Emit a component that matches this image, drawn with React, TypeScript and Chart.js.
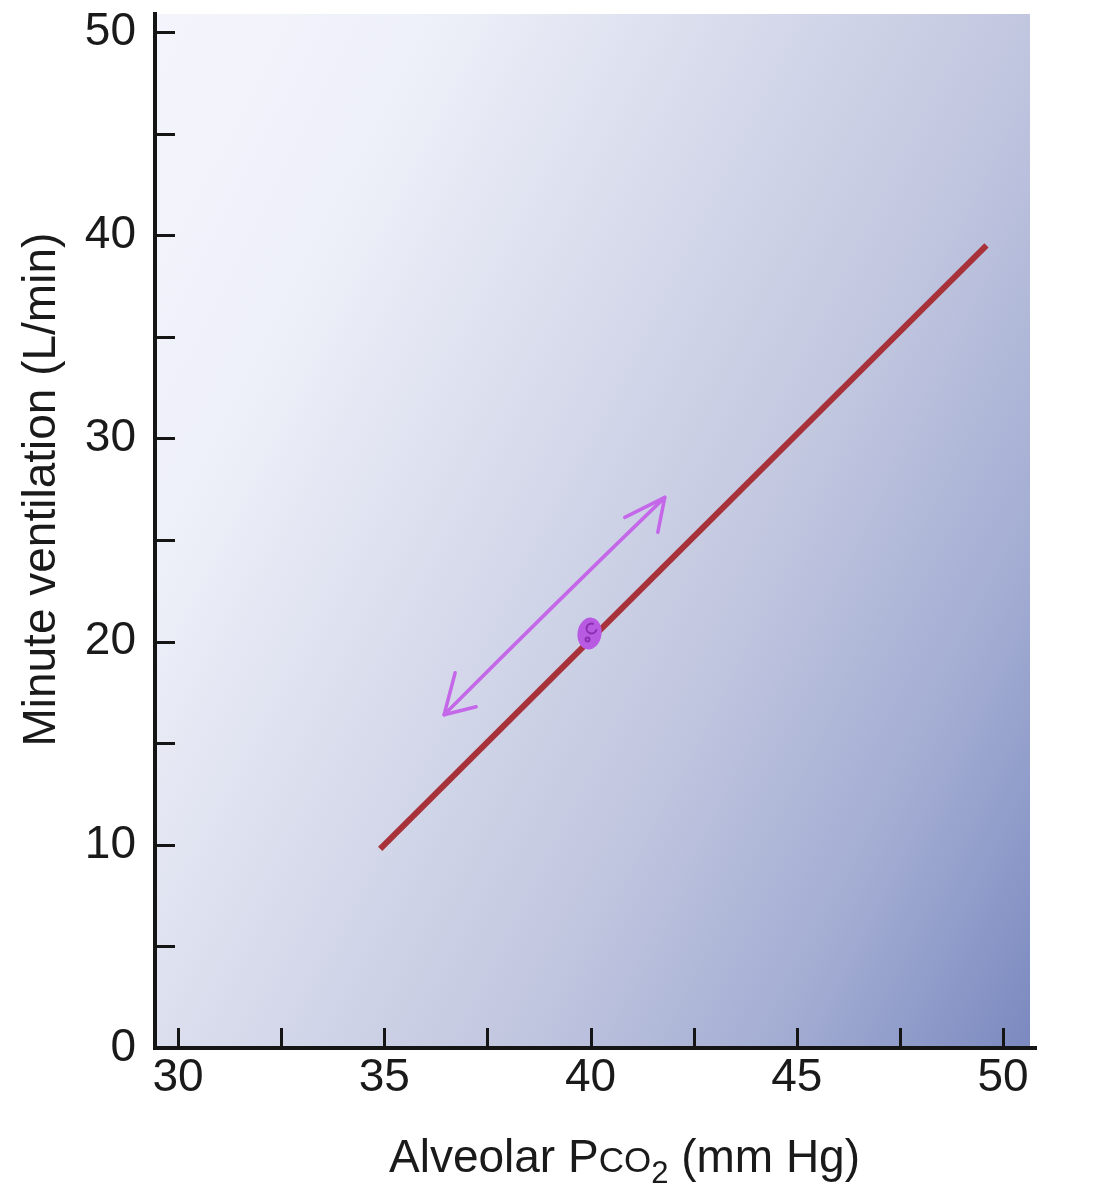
import React, { useEffect, useRef } from "react";
import { Chart, registerables } from "chart.js";

Chart.register(...registerables);

// ---- data ----
const lineX = [34.9, 49.6];
const lineY = [9.8, 39.5];
const xTickValues = [30, 32.5, 35, 37.5, 40, 42.5, 45, 47.5, 50];
const xLabelValues = [30, 35, 40, 45, 50];
const yTickValues = [0, 5, 10, 15, 20, 25, 30, 35, 40, 45, 50];
const yLabelValues = [0, 10, 20, 30, 40, 50];
const arrowFrom = [36.45, 16.4];
const arrowTo = [41.8, 27.1];
const markerPoint = [40, 20.4];
const yTitle = "Minute ventilation (L/min)";
const xTitleParts = ["Alveolar P", "CO", "2", " (mm Hg)"];

const FONT = "'Liberation Sans', Arial, Helvetica, sans-serif";
const TEXT = "#1a1a1a";
const AXIS = "#151515";
const LINE_RED = "#a8323a";
const PURPLE = "#c467e8";
const FS = 46;

const decorPlugin = {
  id: "decor",
  beforeDraw(chart: any) {
    const { ctx, chartArea: a } = chart;
    const w = a.right - a.left - 6;
    const h = a.bottom - a.top;
    const gx = 0.625 / w;
    const gy = 0.375 / h;
    const gg = gx * gx + gy * gy;
    const dx = gx / gg;
    const dy = gy / gg;
    const g = ctx.createLinearGradient(a.left, a.top, a.left + dx, a.top + dy);
    g.addColorStop(0, "#f4f5fc");
    g.addColorStop(0.2, "#eef0f9");
    g.addColorStop(0.375, "#dcdfee");
    g.addColorStop(0.625, "#c2c7e0");
    g.addColorStop(0.82, "#a3add3");
    g.addColorStop(1, "#7b89bf");
    ctx.save();
    ctx.fillStyle = g;
    ctx.fillRect(a.left, a.top, w, h);
    ctx.restore();
  },
  afterDatasetsDraw(chart: any) {
    const { ctx, chartArea: a, scales } = chart;
    const xs = scales.x;
    const ys = scales.y;
    ctx.save();
    ctx.strokeStyle = AXIS;
    ctx.lineWidth = 3;
    ctx.lineCap = "butt";
    for (const v of yTickValues) {
      if (v === 0) continue;
      const py = Math.round(ys.getPixelForValue(v)) + 0.5;
      ctx.beginPath();
      ctx.moveTo(a.left, py);
      ctx.lineTo(a.left + 20, py);
      ctx.stroke();
    }
    for (const v of xTickValues) {
      const px = Math.round(xs.getPixelForValue(v)) + 0.5;
      ctx.beginPath();
      ctx.moveTo(px, a.bottom);
      ctx.lineTo(px, a.bottom - 20);
      ctx.stroke();
    }

    // purple double arrow
    const x0 = xs.getPixelForValue(arrowFrom[0]);
    const y0 = ys.getPixelForValue(arrowFrom[1]);
    const x1 = xs.getPixelForValue(arrowTo[0]);
    const y1 = ys.getPixelForValue(arrowTo[1]);
    ctx.strokeStyle = PURPLE;
    ctx.lineWidth = 3.5;
    ctx.lineCap = "round";
    ctx.lineJoin = "round";
    ctx.beginPath();
    ctx.moveTo(x0, y0);
    ctx.quadraticCurveTo((x0 + x1) / 2 + 3, (y0 + y1) / 2 - 5, x1, y1);
    ctx.stroke();
    ctx.beginPath();
    ctx.moveTo(x1 - 40, y1 + 20);
    ctx.lineTo(x1, y1);
    ctx.lineTo(x1 - 7, y1 + 35);
    ctx.stroke();
    ctx.beginPath();
    ctx.moveTo(x0 + 11, y0 - 42);
    ctx.lineTo(x0, y0);
    ctx.lineTo(x0 + 32, y0 - 8);
    ctx.stroke();

    // marker blob
    const mx = xs.getPixelForValue(markerPoint[0]);
    const my = ys.getPixelForValue(markerPoint[1]);
    ctx.fillStyle = "#b95be2";
    ctx.beginPath();
    ctx.ellipse(mx - 1, my, 12, 16, 0.15, 0, Math.PI * 2);
    ctx.fill();
    ctx.strokeStyle = "#8a2fb0";
    ctx.lineWidth = 2;
    ctx.beginPath();
    ctx.arc(mx + 1, my - 5, 5, 0.3, Math.PI * 1.6);
    ctx.stroke();
    ctx.beginPath();
    ctx.arc(mx - 3, my + 6, 2, 0, Math.PI * 2);
    ctx.stroke();
    ctx.restore();
  },
  afterDraw(chart: any) {
    const { ctx, chartArea: a } = chart;
    ctx.save();
    ctx.fillStyle = TEXT;
    ctx.save();
    ctx.translate(a.left - 113, a.top + 0.46 * (a.bottom - a.top));
    ctx.rotate(-Math.PI / 2);
    ctx.font = `${FS}px ${FONT}`;
    ctx.textAlign = "center";
    ctx.textBaseline = "middle";
    ctx.fillText(yTitle, 0, 0);
    ctx.restore();

    const big = `${FS}px ${FONT}`;
    const small = `${Math.round(FS * 0.77)}px ${FONT}`;
    const sub = `${Math.round(FS * 0.68)}px ${FONT}`;
    ctx.textBaseline = "alphabetic";
    ctx.textAlign = "left";
    const fonts = [big, small, sub, big];
    const widths = xTitleParts.map((t, i) => {
      ctx.font = fonts[i];
      return ctx.measureText(t).width;
    });
    const total = widths.reduce((s, v) => s + v, 0);
    const cx = (a.left + a.right) / 2 + 29;
    const baseY = a.bottom + 124;
    let x = cx - total / 2;
    xTitleParts.forEach((t, i) => {
      ctx.font = fonts[i];
      const yy = i === 2 ? baseY + 11 : baseY;
      ctx.fillText(t, x, yy);
      x += widths[i];
    });
    ctx.restore();
  },
};

export default function App() {
  const ref = useRef<HTMLCanvasElement | null>(null);
  useEffect(() => {
    if (!ref.current) return;
    const chart = new Chart(ref.current, {
      type: "line",
      data: {
        datasets: [
          {
            label: "Ventilation",
            data: lineX.map((x, i) => ({ x, y: lineY[i] })),
            borderColor: LINE_RED,
            borderWidth: 6,
            pointRadius: 0,
            fill: false,
            tension: 0,
          },
        ],
      },
      options: {
        animation: false,
        responsive: true,
        maintainAspectRatio: false,
        layout: { padding: { top: 6, right: 58, left: 0, bottom: 0 } },
        plugins: {
          legend: { display: false },
          tooltip: { enabled: false },
          title: { display: false },
        },
        scales: {
          x: {
            type: "linear",
            min: 29.44,
            max: 50.8,
            grid: { display: false, drawTicks: false },
            border: { display: true, color: AXIS, width: 4 },
            afterBuildTicks: (s: any) => {
              s.ticks = xTickValues.map((v) => ({ value: v }));
            },
            afterFit: (s: any) => {
              s.height = 144;
              s.paddingLeft = 0;
              s.paddingRight = 0;
            },
            ticks: {
              autoSkip: false,
              maxRotation: 0,
              padding: 3,
              color: TEXT,
              font: { family: FONT, size: FS },
              callback: (v: any) => (xLabelValues.includes(Number(v)) ? String(v) : ""),
            },
          },
          y: {
            type: "linear",
            min: 0,
            max: 50.89,
            grid: { display: false, drawTicks: false },
            border: { display: true, color: AXIS, width: 4 },
            afterBuildTicks: (s: any) => {
              s.ticks = yTickValues.map((v) => ({ value: v }));
            },
            afterFit: (s: any) => {
              s.width = 147;
              s.paddingTop = 0;
              s.paddingBottom = 0;
            },
            ticks: {
              autoSkip: false,
              padding: 19,
              color: TEXT,
              font: { family: FONT, size: FS },
              callback: (v: any) => (yLabelValues.includes(Number(v)) ? String(v) : ""),
            },
          },
        },
      },
      plugins: [decorPlugin],
    });
    return () => chart.destroy();
  }, []);
  return (
    <div style={{ width: 1086, height: 1184, position: "relative" }}>
      <canvas ref={ref} />
    </div>
  );
}
